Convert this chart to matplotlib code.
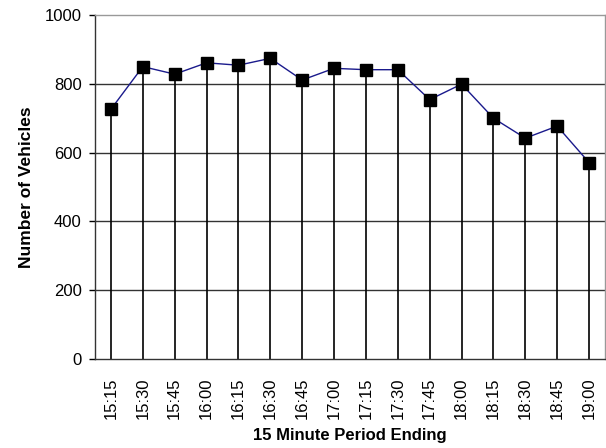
import matplotlib
matplotlib.use("Agg")
import matplotlib.pyplot as plt

times = ["15:15", "15:30", "15:45", "16:00", "16:15", "16:30", "16:45", "17:00",
         "17:15", "17:30", "17:45", "18:00", "18:15", "18:30", "18:45", "19:00"]
vehicles = [726, 850, 828, 861, 854, 874, 811, 845, 841, 841, 754, 799, 700, 642, 677, 571]
yticks = [0, 200, 400, 600, 800, 1000]

plt.rcParams['font.family'] = ['Liberation Sans', 'DejaVu Sans']

fig = plt.figure(figsize=(6.06, 4.48), dpi=100)
ax = fig.add_axes([95/606, 1 - 359/448, 510/606, 344/448])

x = list(range(len(times)))
ax.vlines(x, 0, vehicles, colors='black', linewidth=1.2, zorder=2)
ax.plot(x, vehicles, color='#1a1a8c', linewidth=1.0, marker='s', markersize=8.5,
        markerfacecolor='black', markeredgecolor='black', zorder=3)

ax.set_xlim(-0.5, len(times) - 0.5)
ax.set_ylim(0, 1000)
ax.set_yticks(yticks)
ax.set_yticklabels([str(v) for v in yticks], fontsize=12)
ax.set_xticks(x)
ax.set_xticklabels(times, rotation=90, fontsize=12)
ax.tick_params(axis='x', length=0, pad=13)
ax.tick_params(axis='y', length=4.5, width=1, direction='out', pad=5)

for v in yticks[1:-1]:
    ax.axhline(v, color='#333333', linewidth=1.0, zorder=1)

ax.spines['left'].set_color('#333333')
ax.spines['bottom'].set_color('#333333')
ax.spines['top'].set_color('#999999')
ax.spines['right'].set_color('#999999')
for s in ax.spines.values():
    s.set_linewidth(1.0)

ax.set_ylabel("Number of Vehicles", fontsize=12.5, fontweight='bold', labelpad=8)
ax.set_xlabel("15 Minute Period Ending", fontsize=12, fontweight='bold', labelpad=7)

fig.savefig("out.png", dpi=100)
